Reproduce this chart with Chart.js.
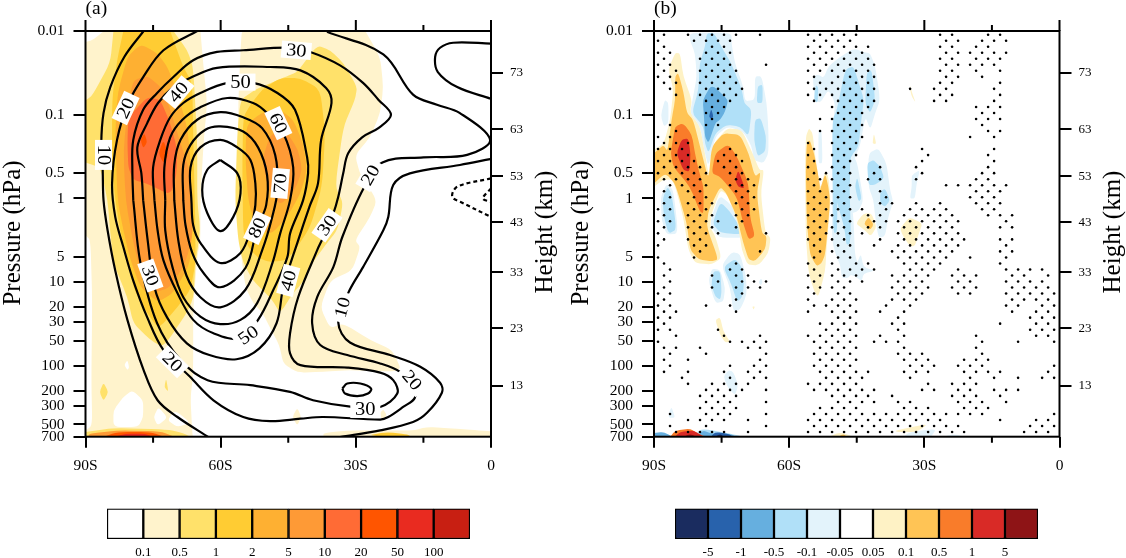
<!DOCTYPE html>
<html>
<head>
<meta charset="utf-8">
<script src="https://cdn.jsdelivr.net/npm/chart.js@4"></script>
<style>
  body { margin: 0; background: #fff; }
  canvas { position: absolute; }
</style>
</head>
<body>
<canvas id="panelA" style="left:0;top:0" width="563" height="480"></canvas>
<canvas id="panelB" style="left:568px;top:0" width="558" height="480"></canvas>
<canvas id="barA" style="left:100px;top:500px" width="380" height="58"></canvas>
<canvas id="barB" style="left:668px;top:500px" width="380" height="58"></canvas>
<script>
// axes
const pressureTicks = [0.01, 0.1, 0.5, 1, 5, 10, 20, 30, 50, 100, 200, 300, 500, 700];
const heightKm = [73, 63, 53, 43, 33, 23, 13];
const heightPressure = [0.0318, 0.1486, 0.542, 1.92, 7.64, 35.7, 172];
const minorLat = [-75, -45, -15];
const majorLat = [-90, -60, -30, 0];

// colour levels
const warmLabels = ['0.1', '0.5', '1', '2', '5', '10', '20', '50', '100'];
const warmColors = ['#ffffff', '#fff3cc', '#ffe16a', '#ffcc33', '#feb032', '#fe9a36', '#ff6b35', '#ff5500', '#e92b20', '#c81f12'];
const divLabels = ['-5', '-1', '-0.5', '-0.1', '-0.05', '0.05', '0.1', '0.5', '1', '5'];
const divColors = ['#1a2c5f', '#2862ac', '#66afdf', '#b0e0f8', '#e3f3fb', '#ffffff', '#fef2c5', '#ffc455', '#f97c2a', '#d92a26', '#8e1416'];

// contour lines of panel a, as [latitude, log10(hPa)]
const c10Left = [[-77.1,-2],[-81.4,-1.69],[-84.5,-1.33],[-86,-1.02],[-86.5,-.66],[-86.2,-.37],[-86,.02],[-85.1,.38],[-83.4,.86],[-80.7,1.45],[-77.1,2.05],[-74,2.41],[-69.6,2.61],[-62.7,2.85]];
const c10Right = [[-.2,-.47],[-6.9,-.40],[-18,-.30],[-21.7,-.16],[-22.8,.22],[-23.9,.38],[-28.4,.82],[-31.7,1.13],[-33.9,1.48],[-31.3,1.72],[-22.4,1.87],[-15.7,2.01],[-11.3,2.20],[-10.9,2.32],[-14.2,2.56],[-17.3,2.67],[-24.6,2.77],[-33.5,2.85]];
const c10Top = [[0,-1.85],[-8.4,-1.86],[-11.3,-1.80],[-12.4,-1.69],[-11.8,-1.51],[-7.5,-1.33],[0,-1.19]];
const c20 = [[-65.2,-2],[-72.7,-1.77],[-77.2,-1.45],[-80.5,-1.14],[-83,-.70],[-84.1,-.18],[-83.4,.22],[-81.6,.58],[-79.4,.98],[-76.3,1.42],[-72.7,1.81],[-66.8,2.13],[-61.6,2.41],[-55,2.61],[-49,2.66],[-42.3,2.63],[-37.3,2.61],[-24.6,2.64],[-22.8,2.61],[-19.5,2.49],[-16.9,2.38],[-17.5,2.23],[-20.2,2.07],[-24.6,1.97],[-31.9,1.87],[-37.9,1.75],[-39.7,1.49],[-38.6,1.18],[-35,.82],[-33,.46],[-28.3,-.12],[-24.1,-.43],[-15,-.49],[-5.3,-.52],[-.2,-.70],[-6.9,-1.02],[-12,-1.12],[-17.3,-1.24],[-23.9,-1.72],[-36.4,-1.99]];
const c30 = [[-79.4,.02],[-79.6,-.34],[-79.4,-.70],[-77.2,-1.06],[-74.1,-1.26],[-70.5,-1.45],[-66.1,-1.65],[-60.8,-1.75],[-55,-1.77],[-44.8,-1.80],[-40.1,-1.75],[-33.5,-1.59],[-28.4,-1.38],[-25,-1.18],[-22.2,-1],[-25,-.84],[-28.6,-.73],[-31.7,-.54],[-32.8,-.30],[-33.9,-.02],[-35,.18],[-37.2,.46],[-38.6,.62],[-42.8,1.18],[-44.6,1.61],[-44.6,1.85],[-42.3,1.99],[-31.9,2.02],[-24.6,2.08],[-21.7,2.17],[-20.8,2.33],[-24.6,2.49],[-30.8,2.49],[-39.5,2.41],[-44.6,2.31],[-53.4,2.23],[-62.9,2.17],[-68.9,1.93],[-74.1,1.49],[-77.8,.77],[-79.4,.02]];
const c30Small = [[-33,2.27],[-31.9,2.21],[-29,2.21],[-26.6,2.27],[-27.3,2.33],[-29.7,2.36],[-32.4,2.33],[-33,2.27]];
const c40 = [[-77.2,.02],[-77.6,-.30],[-78.5,-.61],[-76.3,-.90],[-73.9,-1.14],[-70.5,-1.33],[-66.8,-1.44],[-60.8,-1.56],[-49,-1.57],[-42.3,-1.53],[-36.6,-1.32],[-35.4,-1.14],[-37.7,-.70],[-38.4,-.18],[-40.3,.10],[-42.8,.50],[-46.1,1.06],[-47.6,1.49],[-51.4,1.79],[-56.5,1.92],[-62.5,1.87],[-67.5,1.73],[-71.9,1.42],[-74.7,1.06],[-76.2,.50],[-77.2,.02]];
const c50 = [[-74.7,.02],[-75,-.37],[-73.4,-.70],[-71.2,-.97],[-68.3,-1.14],[-64.5,-1.26],[-58.5,-1.38],[-52.8,-1.38],[-47.4,-1.26],[-43.5,-1.06],[-40.8,-.49],[-40.6,-.30],[-41.7,.02],[-44.6,.42],[-45.2,.70],[-48.3,1.09],[-51.7,1.45],[-55.6,1.67],[-61.6,1.61],[-66.1,1.45],[-69.6,1.13],[-72.7,.74],[-74,.38],[-74.7,.02]];
const c60 = [[-72.3,.02],[-72.5,-.37],[-71.2,-.73],[-68.5,-.94],[-64.5,-1.09],[-58.5,-1.20],[-52.8,-1.14],[-49.7,-1.02],[-46.1,-.78],[-43.9,-.37],[-44.6,.02],[-46.8,.42],[-48.5,.77],[-51.9,1.25],[-55.6,1.45],[-60.1,1.50],[-64.5,1.41],[-68.3,1.18],[-70.7,.82],[-72.3,.38],[-72.3,.02]];
const c70 = [[-70.3,.02],[-70.3,-.40],[-68.9,-.70],[-65.2,-.94],[-60.1,-1.03],[-55,-.97],[-50.8,-.84],[-47.9,-.52],[-47.4,-.10],[-48.6,.23],[-50.8,.62],[-54.5,1.09],[-60.1,1.30],[-64.5,1.18],[-67.6,.92],[-69.4,.50],[-70.3,.02]];
const c80 = [[-68.3,.02],[-68.3,-.40],[-66.7,-.64],[-63.4,-.82],[-60.1,-.86],[-55,-.80],[-51.7,-.61],[-49.7,-.28],[-49.9,.08],[-51.9,.35],[-54.5,.83],[-60.1,1.06],[-63.8,.89],[-66.3,.65],[-67.8,.32],[-68.3,.02]];
const c90 = [[-66.5,.02],[-66.7,-.37],[-64.5,-.61],[-60.1,-.70],[-56.3,-.61],[-53.4,-.46],[-52.3,-.18],[-52.3,.08],[-53.4,.38],[-55.6,.65],[-60.1,.77],[-64.5,.53],[-66.1,.32],[-66.5,.02]];
const c100 = [[-60.1,-.46],[-63,-.34],[-64.1,-.10],[-63,.17],[-60.1,.39],[-57.2,.22],[-55.6,-.06],[-56.3,-.30],[-60.1,-.46]];
const cNeg = [[0,-.24],[-7.5,-.14],[-8.6,-.02],[-6.4,.05],[0,.22]];
const cNegInner = [[0,-.12],[-1.8,0],[0,.04]];
const solidLinesA = [c10Left, c10Right, c10Top, c20, c30, c30Small, c40, c50, c60, c70, c80, c90, c100];
const dashedLinesA = [cNeg, cNegInner];

// contour labels of panel a: latitude, log10(hPa), text, rotation in degrees
const labelLat = [-86,-81.1,-69.4,-55.6,-43.2,-47.2,-46.8,-51.9,-36.4,-26.8,-45,-33,-53.9,-75.6,-70.7,-17.5,-27.9];
const labelLp = [-.52,-1.08,-1.27,-1.39,-1.77,-.90,-.18,.35,.32,-.28,.98,1.30,1.63,.92,1.95,2.17,2.52];
const labelText = ['10','20','40','50','30','60','70','80','30','20','40','10','50','30','20','20','30'];
const labelAngle = [90,-65,-50,0,5,65,-85,-65,-55,-60,-75,-75,-35,70,45,50,0];

// shaded bands of panel a
const aCreamLeft = [[-90,-2],[-64.5,-2],[-63.8,-1.57],[-63,-1.14],[-63.8,-.66],[-64.5,.02],[-64.5,.50],[-65.2,.70],[-66.1,1.30],[-66.1,2.10],[-66.7,2.38],[-66.3,2.80],[-66.1,2.86],[-90,2.86]];
const aCreamRight = [[-55,-2],[-27.9,-2],[-24.6,-1.69],[-23.9,-1.33],[-24.6,-1.02],[-26.8,-.73],[-30.2,-.52],[-29,-.28],[-25.3,.02],[-26.8,.22],[-30.2,.50],[-29,.58],[-30.8,.86],[-35.7,.98],[-37.9,1.30],[-35.7,1.55],[-32.8,1.49],[-26.8,1.69],[-21.9,1.81],[-19.7,2.07],[-31.9,2.05],[-37.2,2.07],[-43,2.08],[-46.1,1.97],[-47,1.75],[-48.6,1.59],[-50.8,1.36],[-52.8,1.25],[-54.5,1.06],[-55.6,.62],[-55.6,.41],[-56.1,-.37],[-56.1,-1.17],[-55.4,-1.97]];
const aCreamStrip = [[-37.2,2.80],[-31.9,2.77],[-24.6,2.77],[-17.3,2.77],[-14.2,2.73],[-9.8,2.74],[-2.4,2.77],[0,2.78],[0,2.86],[-37.2,2.86]];
const aCreamBit1 = [[-44.1,2.61],[-43,2.50],[-42.1,2.61],[-43,2.71]];
const aCreamBit2 = [[-24.6,2.56],[-23.9,2.52],[-23.1,2.59],[-24.2,2.65]];
const aHoleStrip = [[-90,.44],[-88.9,.50],[-88.5,1.21],[-88.7,2.17],[-88.5,2.71],[-90,2.77]];
const aHoleCorner = [[-90,-2.02],[-85.4,-2.02],[-88.5,-1.89],[-90,-1.87]];
const aHole1 = [[-83.8,2.73],[-83.8,2.53],[-81.6,2.37],[-79.6,2.29],[-77.2,2.41],[-77.2,2.61],[-78.3,2.73]];
const aHole2 = [[-74.9,2.61],[-73.8,2.49],[-71.8,2.62],[-74,2.71]];
const aHole3 = [[-71.8,2.65],[-70.1,2.53],[-66.7,2.68],[-69.6,2.73]];
const aHole4 = [[-81.4,1.99],[-80.7,1.93],[-80.3,2.02],[-80.7,2.05]];
const aYellowLeft = [[-83.8,-2],[-70.5,-2],[-67.4,-1.77],[-66.1,-1.57],[-65.2,-.70],[-65.2,.02],[-64.5,.38],[-65.6,.77],[-66.1,1.25],[-72.7,1.78],[-75.6,1.69],[-79.4,1.49],[-80.7,1.18],[-83.8,.77],[-84.5,.41],[-85.1,.02],[-86.7,-.37],[-90,-.43],[-90,-1.17],[-88.5,-1.23],[-84.5,-1.62]];
const aYellowRight = [[-55.6,-1.18],[-52.3,-1.30],[-45.7,-1.45],[-43,-1.51],[-38.6,-1.83],[-35.7,-1.77],[-32.8,-1.62],[-29.7,-1.33],[-30.2,-1.18],[-32.8,-.85],[-34.6,-.14],[-32.8,.05],[-34.1,.38],[-36.8,.56],[-39.5,.76],[-41.9,1.01],[-43.9,1.13],[-46.8,1.37],[-48.6,1.21],[-50.8,1.09],[-52.8,.98],[-55,.77],[-56.1,.50],[-56.8,.02],[-56.3,-.78]];
const aYellowBlob1 = [[-86.9,2.31],[-86,2.20],[-84.9,2.31],[-86,2.42]];
const aYellowBlob2 = [[-72.5,2.25],[-72.1,2.15],[-71.6,2.31]];
const aGoldLeft = [[-81.6,-2],[-71.2,-2],[-68.3,-1.57],[-66.3,-1.38],[-66.1,-.78],[-65.6,.38],[-65.6,.77],[-66.7,1.09],[-69.6,1.30],[-72.7,1.49],[-74,1.54],[-77.2,1.30],[-79.4,1.06],[-80.5,.77],[-82.2,.41],[-83.4,.02],[-84.1,-.37],[-84.1,-1.18],[-83,-1.65]];
const aGoldRight = [[-55,-.97],[-53.4,-1.12],[-50.8,-1.30],[-46.8,-1.44],[-42.3,-1.44],[-37.9,-1.30],[-36.8,-.78],[-37.5,-.14],[-40.1,.34],[-43.5,.62],[-45.7,.74],[-49.4,.76],[-51.9,.70],[-53.9,.58],[-55,.41],[-55.2,-.37]];
const aGoldBottom = [[-27.5,2.83],[-23.1,2.79],[-18.4,2.82],[-17.5,2.86]];
const aAmberLeft = [[-78.5,-1.81],[-77.2,-1.83],[-74,-1.73],[-71.8,-1.57],[-69.6,-1.26],[-67.4,-.85],[-66.7,-.46],[-66.3,.22],[-66.7,.77],[-70.5,1.13],[-74,1.24],[-77.8,1.06],[-80,.74],[-81.6,.38],[-82.9,.02],[-83.4,-.78],[-82.9,-1.26],[-80.7,-1.69]];
const aAmberRight = [[-54.3,-.88],[-50.8,-1.03],[-46.8,-1.06],[-43.9,-.94],[-41.7,-.66],[-40.8,-.34],[-42.3,-.06],[-45.2,.22],[-49,.44],[-52.3,.32],[-53.9,.02],[-54.5,-.46]];
const aOrangeLeft = [[-79.4,-1.41],[-76.3,-1.47],[-72.7,-1.30],[-71.2,-1.06],[-68.9,-.66],[-66.7,-.30],[-66.1,.41],[-67.8,.77],[-71.2,1.06],[-74.9,1.13],[-77.8,.86],[-79.4,.53],[-81.1,.02],[-81.6,-.58],[-80.5,-1.14]];
const aOrangeRight = [[-49,-.76],[-45.7,-.82],[-42.8,-.58],[-41.9,-.34],[-43.5,-.10],[-46.8,.08],[-49.4,-.10],[-50.8,-.46]];
const aCoral = [[-80.7,-.66],[-80.5,-.97],[-76.3,-1.21],[-73.4,-1.18],[-71.2,-.90],[-69.6,-.58],[-69.8,-.28],[-71.2,-.04],[-76.3,-.18],[-79.4,-.22],[-80.5,-.37]];
const aRed1 = [[-77.8,-.70],[-76.9,-.78],[-76.3,-.67],[-77.2,-.60]];
const aRed2 = [[-73.8,-.54],[-72.7,-.70],[-71.6,-.52],[-72.7,-.42]];
const aGround1 = [[-90,2.79],[-83.8,2.74],[-71.8,2.76],[-68.3,2.80],[-66.3,2.86],[-90,2.86]];
const aGround2 = [[-89.3,2.81],[-82.9,2.77],[-73.4,2.78],[-69.6,2.86],[-89.3,2.86]];
const aGround3 = [[-86.7,2.86],[-82.9,2.79],[-75.6,2.79],[-71.8,2.86]];
const aGround4 = [[-84.5,2.86],[-81.1,2.81],[-76.7,2.81],[-74.5,2.86]];
const fillShapesA = [aCreamLeft, aCreamRight, aCreamStrip, aCreamBit1, aCreamBit2, aHoleStrip, aHoleCorner, aHole1, aHole2, aHole3, aHole4, aYellowLeft, aYellowRight, aYellowBlob1, aYellowBlob2, aGoldLeft, aGoldRight, aGoldBottom, aAmberLeft, aAmberRight, aOrangeLeft, aOrangeRight, aCoral, aRed1, aRed2, aGround1, aGround2, aGround3, aGround4];
const fillLevelsA = [1,1,1,1,1,0,0,0,0,0,0,2,2,2,2,3,3,3,4,4,5,5,6,7,7,2,5,7,8];

// shaded bands of panel b
const bCream1 = [[-85.3,-1.74],[-84.2,-1.73],[-83.5,-1.46],[-81.6,-1.18],[-82,-1.02],[-79.8,-.86],[-78.7,-.54],[-77.8,-.26],[-76.8,-.66],[-73.7,-.84],[-70.5,-.82],[-68.3,-.56],[-66.6,-.34],[-65.6,-.34],[-66.3,-.06],[-65.3,.41],[-64.1,.47],[-64.6,.65],[-66.8,.80],[-69.3,.79],[-70.5,.61],[-70.9,.47],[-71.6,.26],[-73.7,-.04],[-75.3,-.10],[-77.2,.18],[-77.6,.34],[-76.4,.45],[-75,.71],[-77.2,.79],[-80.9,.77],[-82.4,.61],[-83.5,.22],[-85.7,-.22],[-87.8,-.23],[-90,-.14],[-90,-.58],[-87.8,-.66],[-86.4,-.94],[-85.7,-1.30],[-86.8,-1.54]];
const bAmber1 = [[-85.3,-1.46],[-84.6,-1.50],[-83.5,-1.28],[-82.7,-1.02],[-81.3,-.94],[-79.4,-.54],[-77.9,-.22],[-77.2,-.62],[-74.6,-.78],[-70.9,-.76],[-69,-.54],[-67.6,-.26],[-66.3,-.32],[-67.2,-.06],[-66.1,.41],[-65,.45],[-65.3,.61],[-67.6,.75],[-69,.73],[-70.2,.53],[-71.6,.22],[-73.9,-.06],[-75.3,-.14],[-77.9,.14],[-78.3,.34],[-75.7,.73],[-77.2,.75],[-80.1,.73],[-82,.61],[-82.7,.30],[-85.3,-.18],[-87.5,-.30],[-90,-.18],[-90,-.54],[-87.9,-.64],[-87,-.56],[-86.1,-.94],[-85.3,-1.18]];
const bOrange1 = [[-85.7,-.74],[-85.3,-.86],[-83.5,-.90],[-81.6,-.76],[-80.9,-.54],[-80.1,-.34],[-79,-.14],[-79,.18],[-79.8,.16],[-82,-.14],[-85.7,-.38],[-86.3,-.54]];
const bOrange2 = [[-77.2,-.30],[-76.4,-.54],[-73.5,-.65],[-71.6,-.50],[-69,-.18],[-68.7,.22],[-67.6,.45],[-69,.49],[-70.2,.30],[-71.6,-.02],[-75.3,-.26]];
const bRed1 = [[-85,-.54],[-83.9,-.70],[-82.4,-.72],[-81.9,-.54],[-82.1,-.32],[-83.5,-.34]];
const bRed2 = [[-72,-.22],[-71.3,-.34],[-70.2,-.18],[-70,-.12],[-71.3,-.14]];
const bPale1 = [[-82,-1.98],[-72.8,-1.98],[-72.8,-1.85],[-72,-1.61],[-70.2,-1.34],[-69.8,-1.16],[-67.6,-1.18],[-67.6,-1.46],[-66.1,-1.46],[-65,-1.14],[-64.6,-.82],[-64.6,-.54],[-65.7,-.42],[-67.9,-.46],[-68.3,-.62],[-70.2,-.80],[-73.7,-.86],[-76.4,-.74],[-77.9,-.38],[-78.7,-.54],[-79.8,-.86],[-82,-1.02],[-81.3,-1.22],[-80.5,-1.46],[-80.9,-1.73],[-82,-1.89]];
const bSky1 = [[-78.3,-1.97],[-76.7,-1.98],[-74.6,-1.77],[-72.8,-1.61],[-70.5,-1.30],[-70,-1.14],[-68.3,-1.06],[-69,-.74],[-70.9,-.86],[-73.9,-.88],[-76.4,-.78],[-77.9,-.54],[-78.7,-.66],[-79,-.86],[-81.6,-1.02],[-80.1,-1.30],[-79.9,-1.61],[-78.7,-1.81]];
const bSky2 = [[-67.6,-.94],[-66.3,-.96],[-65.1,-.74],[-65.3,-.56],[-67,-.50],[-67.8,-.70]];
const bSky3 = [[-67.2,-1.14],[-67,-1.34],[-65.9,-1.36],[-65.9,-1.14]];
const bMid1 = [[-79.2,-1.18],[-77.2,-1.36],[-73.5,-1.18],[-74.2,-1.04],[-75.3,-.94],[-76.4,-.90],[-77.9,-.66],[-78.7,-.74],[-78.9,-.98]];
const bDeep1 = [[-77.8,-.98],[-77.3,-1.07],[-76.8,-.98],[-77.3,-.95]];
const bPale2 = [[-88.5,-.99],[-87.6,-1.18],[-86.8,-1.14],[-86.8,-.90],[-87.8,-.86]];
const bPale3 = [[-88.5,-.02],[-87.2,-.18],[-85.7,-.10],[-84.6,.42],[-87.2,.43],[-88.3,.26]];
const bSky4 = [[-88.1,0],[-87,-.14],[-86.1,-.06],[-85,.37],[-86.8,.42],[-87.8,.22]];
const bPale4 = [[-77.7,.30],[-75.5,-.04],[-72.7,.08],[-70.2,.34],[-69.6,.47],[-75.7,.47]];
const bSky5 = [[-77,.30],[-75.3,.04],[-73.1,.16],[-70.9,.34],[-70.8,.43],[-75.3,.41]];
const bPale5 = [[-77.9,.99],[-77.2,.84],[-75.3,.85],[-74.2,1.07],[-74.6,1.23],[-76.4,1.25]];
const bSky6 = [[-77.3,1.03],[-76.8,.87],[-75.3,.87],[-75,1.11],[-75.3,1.21],[-76.4,1.17]];
const bPale6 = [[-75,.80],[-72.8,.64],[-70.9,.66],[-69.6,.92],[-69.4,1.15],[-70.9,1.33],[-72.4,1.35],[-73.1,1.07]];
const bSky7 = [[-74.6,.82],[-72,.72],[-70.5,.82],[-70,1.03],[-70.5,1.19],[-71.6,1.23],[-72.8,1.03]];
const bPale7 = [[-66.8,1],[-66.2,.95],[-65.9,1],[-66.3,1.04]];
const bCream2 = [[-76.4,1.45],[-75.3,1.42],[-74.6,1.59],[-73.1,1.71],[-74.2,1.72],[-75.3,1.63]];
const bCream3 = [[-68.2,1.29],[-67.6,1.29],[-67.9,1.33]];
const bPale8 = [[-73.5,2.05],[-72.4,2.07],[-71.3,2.23],[-72,2.35],[-73.5,2.27],[-74.6,2.13]];
const bPale9 = [[-86.6,2.55],[-86.1,2.49],[-85.3,2.62],[-86.8,2.62]];
const bGroundMid1 = [[-90,2.80],[-88,2.79],[-86.8,2.82],[-85.5,2.86],[-90,2.86]];
const bGroundSky = [[-80.5,2.79],[-79,2.75],[-70.9,2.83],[-70.9,2.86],[-80.5,2.86]];
const bGroundMid2 = [[-80.1,2.82],[-79,2.77],[-77.2,2.81],[-73.1,2.81],[-71.3,2.86],[-80.1,2.86]];
const bGroundDeep = [[-77.6,2.86],[-76.4,2.79],[-73.5,2.81],[-72,2.86]];
const bGroundNavy = [[-76.8,2.86],[-75.3,2.81],[-74.2,2.86]];
const bGroundOrange = [[-86.6,2.86],[-85.3,2.77],[-82,2.75],[-80.1,2.81],[-77.9,2.86]];
const bGroundRed = [[-85.7,2.86],[-84.2,2.79],[-81.3,2.77],[-79.4,2.83],[-78.7,2.86]];
const bGroundDark = [[-83.9,2.86],[-82,2.81],[-80.1,2.86]];
const bCream4 = [[-56.3,-.74],[-55.6,-.84],[-54.8,-.78],[-54.3,-.54],[-53.1,-.10],[-52,-.34],[-51.3,-.26],[-50.8,.02],[-51.7,.59],[-52,.87],[-53.5,1.17],[-54.3,1.13],[-55.7,.89],[-56.3,.45],[-56.5,-.34]];
const bAmber2 = [[-56.1,-.66],[-55.4,-.70],[-54.3,-.50],[-53.1,-.14],[-53.5,-.04],[-52,-.30],[-51.3,-.14],[-50.9,.04],[-52,.67],[-52.8,.77],[-53.9,.81],[-55.4,.67],[-56.1,.26],[-56.3,-.34]];
const bPale10 = [[-54.8,-1.46],[-53.5,-1.48],[-52.3,-1.44],[-51.3,-1.58],[-48.7,-1.69],[-45.7,-1.79],[-43.4,-1.75],[-42,-1.73],[-40.9,-1.58],[-39.8,-1.18],[-40.9,-1.02],[-42,-.82],[-43.1,-.98],[-44.3,-.62],[-45.7,-.46],[-46.3,-.06],[-45.7,.26],[-45.4,.67],[-44.6,.81],[-46.9,.95],[-48.3,.95],[-48.7,.79],[-49.4,.71],[-50.5,.51],[-50.5,-.34],[-50.3,-.86],[-49.8,-1.14],[-51.3,-1.30],[-53.1,-1.14],[-54.3,-1.18]];
const bSky8 = [[-50.4,-.94],[-49.4,-1.06],[-47.6,-1.54],[-45.7,-1.58],[-44.3,-1.34],[-43.4,-1.18],[-43.9,-.98],[-44.6,-.62],[-46.3,-.50],[-46.6,-.14],[-46.3,.41],[-46.6,.55],[-47.3,.55],[-47.6,.41],[-48,.30],[-50.4,-.14]];
const bSky9 = [[-43.1,-1.18],[-42.8,-1.50],[-41.7,-1.54],[-40.9,-1.18],[-42,-1.02],[-42.9,-1.10]];
const bSky10 = [[-54.5,-1.18],[-54.1,-1.36],[-53.5,-1.32],[-53.7,-1.14]];
const bPale11 = [[-53.5,-.82],[-52.8,-.82],[-52.6,-.42],[-53.5,-.42]];
const bSky11 = [[-50.3,-.38],[-49.6,-.42],[-49.3,.10],[-49.4,.41],[-50.2,.41]];
const bPale12 = [[-42.4,-.54],[-40.2,-.60],[-38.4,-.42],[-37.6,-.10],[-36.9,.04],[-38,.22],[-38.7,.45],[-40.2,.47],[-41,.18],[-41.3,.02],[-42.4,-.14]];
const bSky12 = [[-42.7,-.42],[-41.3,-.46],[-39.8,-.38],[-38.9,-.24],[-41,-.16],[-42.4,-.16]];
const bSky13 = [[-39.8,-.08],[-38.7,-.12],[-37.6,.02],[-38.7,.10],[-39.8,.06]];
const bPale13 = [[-46.5,-.52],[-45,-.46],[-43.5,.02],[-44.6,.15],[-46.3,.18]];
const bSky14 = [[-45.4,-.14],[-44.9,-.26],[-43.9,0],[-44.6,.04]];
const bCream5 = [[-45.2,.30],[-43.5,.18],[-41.7,.18],[-40.6,.34],[-41.9,.45],[-43.2,.38]];
const bAmber3 = [[-43.4,.30],[-42.4,.22],[-41.2,.31],[-42.1,.38]];
const bCream6 = [[-35.4,.36],[-33.3,.22],[-30.4,.30],[-31.3,.43],[-32.1,.57],[-33.2,.57],[-34.7,.45]];
const bCream7 = [[-33.2,-1.36],[-32.7,-1.26],[-31.9,-1.14],[-33,-1.24]];
const bCream8 = [[-41.5,-.66],[-41.2,-.78],[-40.7,-.66],[-41,-.65]];
const bPale14 = [[-32.8,-.28],[-31,-.34],[-31.7,-.18],[-32.1,0],[-33.2,0],[-32.8,-.14]];
const bCream9 = [[-45.1,.30],[-44.3,.28],[-44.3,.33]];
const bPale15 = [[-46.5,.80],[-45,.78],[-44.1,.66],[-43.5,.82],[-41,.86],[-43.5,.90],[-43.9,.99],[-45.4,.93],[-46.5,.91]];
const bCream10 = [[-36.5,2.77],[-29.1,2.69],[-31.7,2.79],[-36.1,2.79]];
const bPale16 = [[-35,2.86],[-33.2,2.79],[-27.3,2.75],[-28.7,2.86]];
const bPale17 = [[-26.5,2.86],[-23.6,2.81],[-19.9,2.86]];
const bCream11 = [[-51.7,2.86],[-48.7,2.79],[-45,2.86]];
const bAmber4 = [[-49.4,2.86],[-48,2.81],[-46.9,2.86]];
const fillShapesB = [bPale1, bSky1, bSky2, bSky3, bMid1, bDeep1, bPale2, bPale3, bSky4, bPale4, bSky5, bPale5, bSky6, bPale6, bSky7, bPale7, bPale8, bPale9, bPale10, bSky8, bSky9, bSky10, bPale11, bSky11, bPale12, bSky12, bSky13, bPale13, bSky14, bPale14, bPale15, bPale16, bPale17, bCream1, bAmber1, bOrange1, bOrange2, bRed1, bRed2, bCream2, bCream3, bCream4, bAmber2, bCream5, bAmber3, bCream6, bCream7, bCream8, bCream9, bCream10, bCream11, bAmber4, bGroundMid1, bGroundSky, bGroundMid2, bGroundDeep, bGroundNavy, bGroundOrange, bGroundRed, bGroundDark];
const fillLevelsB = [4,3,3,3,2,1,4,4,3,4,3,4,3,4,3,4,4,4,4,3,3,3,4,3,4,3,3,4,3,4,4,4,4,6,7,8,8,9,9,6,6,6,7,6,7,6,6,6,6,6,6,7,2,3,2,1,0,8,9,10];

// significance dots of panel b: grid columns flagged on each grid row
const dotLatStart = -90.44, dotLatStep = 1.332, dotLpStart = -1.956, dotLpStep = 0.0719;
const dotRows = [
  [2,6,8,10,12,14,18,26,28,30,32,34,48,50,56,58],
  [1,7,9,11,13,27,29,31,33,49,51,55,57,59],
  [2,10,12,26,28,30,32,34,36,48,50,54,56],
  [1,3,9,11,13,27,29,31,33,35,49,51,53,55,57,59],
  [2,8,10,12,26,28,30,32,34,36,48,50,54,56,58],
  [1,3,9,11,13,19,27,29,31,33,35,37,49,51,53,55,57],
  [2,4,8,10,12,14,26,28,30,32,34,36,48,50,54,58],
  [1,3,9,11,13,27,31,33,35,37,49,51,55],
  [2,4,8,10,12,14,26,28,30,32,34,36,48,50,58],
  [3,9,11,13,15,27,29,31,33,35,37,43,47,49,57],
  [4,8,10,12,14,26,28,30,32,34,36,48,50,58],
  [9,11,13,27,31,33,35,37,47,49,57],
  [10,12,30,32,34,36,54,56,58],
  [9,11,31,33,35,55,57],
  [10,28,30,32,34,54,56,58],
  [3,9,11,31,33,35,55],
  [4,28,30,32,34,56,58],
  [1,3,31,33,35,53,57],
  [2,4,6,26,30,32,34],
  [1,3,5,13,27,31,33,45,57],
  [2,4,6,12,14,26,30,32,34,46,56],
  [1,3,5,7,11,13,15,27,31,33,45,57],
  [2,4,6,8,12,14,26,30,32,38,44,56],
  [1,3,5,7,9,13,15,27,29,31,33,37,45,55,57],
  [2,4,6,8,14,16,26,28,30,32,36,38,44,54,56],
  [3,5,7,9,13,15,17,27,31,33,49,51,53,55,57,59],
  [2,6,8,14,16,26,28,30,32,38,54,56,58],
  [3,7,9,15,17,27,29,31,33,39,53,55,57],
  [2,6,8,10,14,16,26,28,30,32,38,40,44,48,54,56,58],
  [1,3,7,9,15,17,27,29,31,33,35,39,43,45,47,49,55,57],
  [2,6,8,10,14,16,26,28,30,32,36,38,42,44,46,48,50,56,58,60],
  [1,3,7,9,11,15,27,29,31,33,37,39,41,43,45,47,49,51,59],
  [2,6,8,10,14,26,28,30,32,36,38,42,44,46,48,50,58,60],
  [1,7,9,11,19,27,29,31,33,35,41,43,45,47,49,51],
  [2,6,8,26,28,30,32,38,42,44,46,48,50,52,58,60],
  [1,7,9,27,31,33,37,41,43,45,47,49,51,59],
  [8,18,28,30,32,40,42,44,46,48,50,58,60],
  [1,7,27,31,33,41,43,45,47,49,53,59],
  [2,14,26,30,34,36,42,44,46,48,58],
  [3,13,15,27,31,33,35,37,43,45,47,51,59,61,63,65],
  [2,10,14,16,26,28,30,32,34,40,42,44,46,50,52,54,60,62,66],
  [3,11,15,17,19,27,31,33,35,41,43,45,51,53,59,61,63,65],
  [2,10,14,16,18,26,28,30,32,40,42,44,46,50,52,54,60,62,64,66],
  [1,3,15,27,31,33,41,43,45,51,53,59,61,63,65,67],
  [2,14,26,30,32,34,40,42,44,60,62,64,66],
  [1,3,9,13,27,29,31,33,39,43,59,61,65,67],
  [2,4,14,26,30,32,34,38,42,60,64,66],
  [1,3,31,33,41,63,65,67],
  [2,28,30,32,34,40,42,58,64,66],
  [1,3,11,29,31,33,41,63,65,67],
  [4,12,18,26,28,30,32,34,38,42,54,64,66],
  [1,13,15,17,19,27,29,31,33,37,39,41,55,61,67],
  [2,4,8,16,18,28,30,32,34,42,54],
  [3,9,19,27,29,31,33,41,43,45,55],
  [2,6,18,28,30,32,34,42,44,46,52,54,56],
  [3,13,17,19,27,29,31,33,43,45,47,51,53,55,67],
  [2,6,12,16,18,28,30,32,34,36,42,44,46,52,54,56,58,66],
  [5,13,17,19,29,31,33,35,43,53,57,61,65,67],
  [6,10,12,14,16,26,28,30,32,34,46,50,52,54],
  [9,11,13,15,19,27,29,31,33,35,37,45,47,51,53,57,59,61],
  [8,10,12,14,30,32,34,36,40,50,52,54,58],
  [9,11,13,19,31,33,35,37,41,43,51,53,55,59],
  [8,10,12,14,28,30,32,34,42,44,46,52,54,56],
  [3,9,11,13,19,27,29,31,33,35,37,39,41,43,45,47,49,51,53,55,67],
  [6,8,10,12,16,26,28,30,32,34,36,38,40,42,44,46,48,58,64,66],
  [3,9,19,27,29,31,33,35,37,39,41,43,45,47,49,51,63,65,67],
  [4,6,8,10,12,16,26,28,30,32,34,36,38,40,42,44,46,48,50,52,62,64,66]
];

const SERIF = '"Liberation Serif", "Times New Roman", serif';

function toPoints(shape) {
  return shape.map(p => ({ x: p[0], y: Math.pow(10, p[1]) }));
}

function fillDataset(shape, color) {
  return { data: toPoints(shape), polyFill: color, showLine: false, pointRadius: 0 };
}

function lineDataset(shape, dashed) {
  return {
    data: toPoints(shape), showLine: true, pointRadius: 0, tension: 0.35, fill: false,
    borderColor: '#000', borderWidth: 2.2, borderDash: dashed ? [4, 3] : []
  };
}

// paints a filled outline through the points the dataset already placed on the scales;
// corners are eased, except points lying on the plot edge which stay sharp
const polygonFill = {
  id: 'polygonFill',
  beforeDatasetDraw(chart, args) {
    const color = chart.data.datasets[args.index].polyFill;
    if (!color) return;
    const pts = args.meta.data, area = chart.chartArea, ctx = chart.ctx, n = pts.length;
    const onEdge = p => p.x <= area.left + 1 || p.x >= area.right - 1 || p.y <= area.top + 1 || p.y >= area.bottom - 1;
    const mix = (a, b, t) => ({ x: a.x + (b.x - a.x) * t, y: a.y + (b.y - a.y) * t });
    ctx.save();
    ctx.beginPath();
    ctx.rect(area.left, area.top, area.width, area.height);
    ctx.clip();
    ctx.beginPath();
    pts.forEach((p, i) => {
      const before = mix(pts[(i + n - 1) % n], p, 0.7);
      const after = mix(p, pts[(i + 1) % n], 0.3);
      if (onEdge(p)) {
        if (i === 0) ctx.moveTo(p.x, p.y); else ctx.lineTo(p.x, p.y);
      } else {
        if (i === 0) ctx.moveTo(before.x, before.y); else ctx.lineTo(before.x, before.y);
        ctx.quadraticCurveTo(p.x, p.y, after.x, after.y);
      }
    });
    ctx.closePath();
    ctx.fillStyle = color;
    ctx.fill();
    ctx.restore();
  }
};

function decorations(letter, withLabels) {
  return {
    id: 'decorations',
    afterDatasetsDraw(chart) {
      const ctx = chart.ctx, x = chart.scales.x, y = chart.scales.y, area = chart.chartArea;
      if (withLabels) {
        labelText.forEach((text, i) => {
          ctx.save();
          ctx.translate(x.getPixelForValue(labelLat[i]), y.getPixelForValue(Math.pow(10, labelLp[i])));
          ctx.rotate(labelAngle[i] * Math.PI / 180);
          ctx.fillStyle = '#fff';
          ctx.fillRect(-15, -8.5, 30, 17);
          ctx.scale(1.14, 1);
          ctx.fillStyle = '#000';
          ctx.font = '18px ' + SERIF;
          ctx.textAlign = 'center';
          ctx.textBaseline = 'middle';
          ctx.fillText(text, 0, 1);
          ctx.restore();
        });
      }
      // outline, top ticks and the short ticks
      ctx.save();
      ctx.strokeStyle = '#000';
      ctx.lineWidth = 2;
      ctx.strokeRect(area.left, area.top, area.width, area.height);
      ctx.beginPath();
      majorLat.forEach(v => {
        const px = x.getPixelForValue(v);
        ctx.moveTo(px, area.top);
        ctx.lineTo(px, area.top - 11);
      });
      minorLat.forEach(v => {
        const px = x.getPixelForValue(v);
        ctx.moveTo(px, area.top);
        ctx.lineTo(px, area.top - 6);
        ctx.moveTo(px, area.bottom);
        ctx.lineTo(px, area.bottom + 6);
      });
      ctx.stroke();
      ctx.fillStyle = '#000';
      ctx.textBaseline = 'middle';
      ctx.textAlign = 'left';
      ctx.font = '19.5px ' + SERIF;
      ctx.fillText(letter, area.left, 9);
      ctx.font = '25px ' + SERIF;
      ctx.textAlign = 'center';
      ctx.translate(13, 233);
      ctx.rotate(-Math.PI / 2);
      ctx.fillText('Pressure (hPa)', 0, 0);
      ctx.rotate(Math.PI / 2);
      ctx.translate(area.right + 54 - 13, -1);
      ctx.rotate(-Math.PI / 2);
      ctx.fillText('Height (km)', 0, 0);
      ctx.restore();
    }
  };
}

function makePanel(id, letter, datasets, leftWidth, rightWidth, withLabels) {
  datasets.forEach((d, i) => { d.order = -i; });
  new Chart(document.getElementById(id), {
    type: 'scatter',
    data: { datasets: datasets },
    plugins: [polygonFill, decorations(letter, withLabels)],
    options: {
      responsive: false,
      animation: false,
      devicePixelRatio: 1,
      layout: { padding: { top: 31, left: 0, right: 0, bottom: 0 } },
      plugins: { legend: { display: false }, tooltip: { enabled: false } },
      scales: {
        x: {
          type: 'linear', min: -90, max: 0,
          afterBuildTicks: s => { s.ticks = majorLat.map(v => ({ value: v })); },
          afterFit: s => { s.height = 43.3; },
          grid: { drawOnChartArea: false, color: '#000', lineWidth: 2, tickLength: 11 },
          border: { display: false },
          ticks: {
            color: '#000', font: { family: SERIF, size: 15.5 }, padding: 9, maxRotation: 0, autoSkip: false,
            callback: v => (v < 0 ? (-v) + 'S' : '0')
          }
        },
        y: {
          type: 'logarithmic', reverse: true, min: 0.01, max: 700, position: 'left',
          afterBuildTicks: s => { s.ticks = pressureTicks.map(v => ({ value: v })); },
          afterFit: s => { s.width = leftWidth; },
          grid: { drawOnChartArea: false, color: '#000', lineWidth: 2, tickLength: 12 },
          border: { display: false },
          ticks: {
            color: '#000', font: { family: SERIF, size: 15.5 }, padding: 9, autoSkip: false,
            callback: v => String(v)
          }
        },
        y2: {
          type: 'logarithmic', reverse: true, min: 0.01, max: 700, position: 'right',
          afterBuildTicks: s => { s.ticks = heightPressure.map(v => ({ value: v })); },
          afterFit: s => { s.width = rightWidth; },
          grid: { drawOnChartArea: false, color: '#000', lineWidth: 2, tickLength: 12 },
          border: { display: false },
          ticks: {
            color: '#000', font: { family: SERIF, size: 13 }, padding: 7, autoSkip: false,
            callback: (v, i) => String(heightKm[i])
          }
        }
      }
    }
  });
}

function makeColorBar(id, colors, labels, padLeft, padRight) {
  new Chart(document.getElementById(id), {
    type: 'bar',
    data: {
      labels: [''],
      datasets: colors.map(c => ({
        data: [1], backgroundColor: c, borderColor: '#000', borderWidth: 1.5, borderSkipped: false,
        barPercentage: 1, categoryPercentage: 1
      }))
    },
    options: {
      indexAxis: 'y',
      responsive: false,
      animation: false,
      devicePixelRatio: 1,
      layout: { padding: { top: 8.5, left: padLeft, right: padRight, bottom: 0 } },
      plugins: { legend: { display: false }, tooltip: { enabled: false } },
      scales: {
        x: {
          stacked: true, min: 0, max: colors.length,
          afterFit: s => { s.height = 19; },
          grid: { display: false, drawTicks: false },
          border: { display: false },
          ticks: {
            stepSize: 1, autoSkip: false, maxRotation: 0, padding: 6, color: '#000',
            font: { family: SERIF, size: 13 },
            callback: v => labels[v - 1] || ''
          }
        },
        y: { stacked: true, display: false }
      }
    }
  });
}

const datasetsA = [];
fillShapesA.forEach((s, i) => datasetsA.push(fillDataset(s, warmColors[fillLevelsA[i]])));
solidLinesA.forEach(s => datasetsA.push(lineDataset(s, false)));
dashedLinesA.forEach(s => datasetsA.push(lineDataset(s, true)));

const datasetsB = [];
fillShapesB.forEach((s, i) => datasetsB.push(fillDataset(s, divColors[fillLevelsB[i]])));
const dotPoints = [];
dotRows.forEach((row, j) => {
  row.forEach(col => {
    dotPoints.push({ x: dotLatStart + col * dotLatStep, y: Math.pow(10, dotLpStart + j * dotLpStep) });
  });
});
datasetsB.push({ data: dotPoints, showLine: false, pointRadius: 1.3, pointBorderWidth: 0, backgroundColor: '#000' });

makePanel('panelA', '(a)', datasetsA, 85.5, 72, true);
makePanel('panelB', '(b)', datasetsB, 86, 66.5, false);
makeColorBar('barA', warmColors, warmLabels, 7, 10);
makeColorBar('barB', divColors, divLabels, 7, 10);
</script>
</body>
</html>
